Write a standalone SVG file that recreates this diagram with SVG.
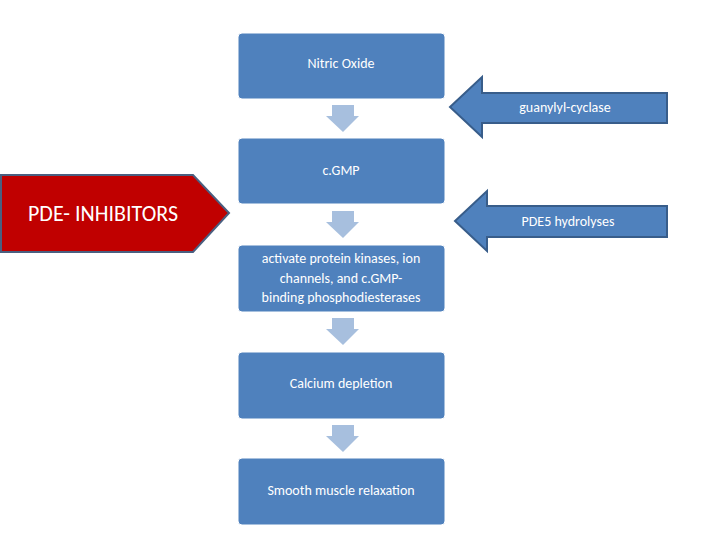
<svg xmlns="http://www.w3.org/2000/svg" width="720" height="540" viewBox="0 0 720 540">
<style>
.box{fill:#4f81bd;stroke:#fff;stroke-width:1}
.t{font-family:Calibri,"Liberation Sans",Carlito,sans-serif;font-size:14px;fill:#fff;text-anchor:middle}
.down{fill:#a7bfde}
.side{fill:#4f81bd;stroke:#385d8a;stroke-width:2}
</style>
<rect width="720" height="540" fill="#fff"/>
<g id="connectors">
<polygon class="down" points="332,105 354,105 354,116 359,116 343,132 326,116 332,116"/>
<polygon class="down" points="332,211 354,211 354,222 359,222 343,238 326,222 332,222"/>
<polygon class="down" points="332,318 354,318 354,329 359,329 343,345 326,329 332,329"/>
<polygon class="down" points="332,425 354,425 354,436 359,436 343,452 326,436 332,436"/>
</g>
<g id="n1"><rect class="box" x="238" y="33" width="207" height="66" rx="4"/><text class="t" x="341" y="68">Nitric Oxide</text></g>
<g id="n2"><rect class="box" x="238" y="138" width="207" height="66" rx="4"/><text class="t" x="341" y="175">c.GMP</text></g>
<g id="n3"><rect class="box" x="238" y="245" width="207" height="67" rx="4"/><text class="t" x="341" y="263">activate protein kinases, ion</text><text class="t" x="341" y="283">channels, and c.GMP-</text><text class="t" x="341" y="302">binding phosphodiesterases</text></g>
<g id="n4"><rect class="box" x="238" y="352" width="207" height="67" rx="4"/><text class="t" x="341" y="388">Calcium depletion</text></g>
<g id="n5"><rect class="box" x="238" y="458" width="207" height="67" rx="4"/><text class="t" x="341" y="495">Smooth muscle relaxation</text></g>
<g id="guanylyl"><polygon class="side" points="450,107 482,77 482,93 667,93 667,123 482,123 482,137"/><text class="t" x="565" y="112">guanylyl-cyclase</text></g>
<g id="pde5"><polygon class="side" points="455,221 487,191 487,206 667,206 667,237 487,237 487,251"/><text class="t" x="568" y="226">PDE5 hydrolyses</text></g>
<g id="inhibitors"><polygon points="1,175 193,175 229,213 193,252 1,252" fill="#c00000" stroke="#4a5f80" stroke-width="2"/><text x="103" y="221" font-family="Calibri,'Liberation Sans',sans-serif" font-size="22" fill="#fff" text-anchor="middle">PDE- INHIBITORS</text></g>
</svg>
